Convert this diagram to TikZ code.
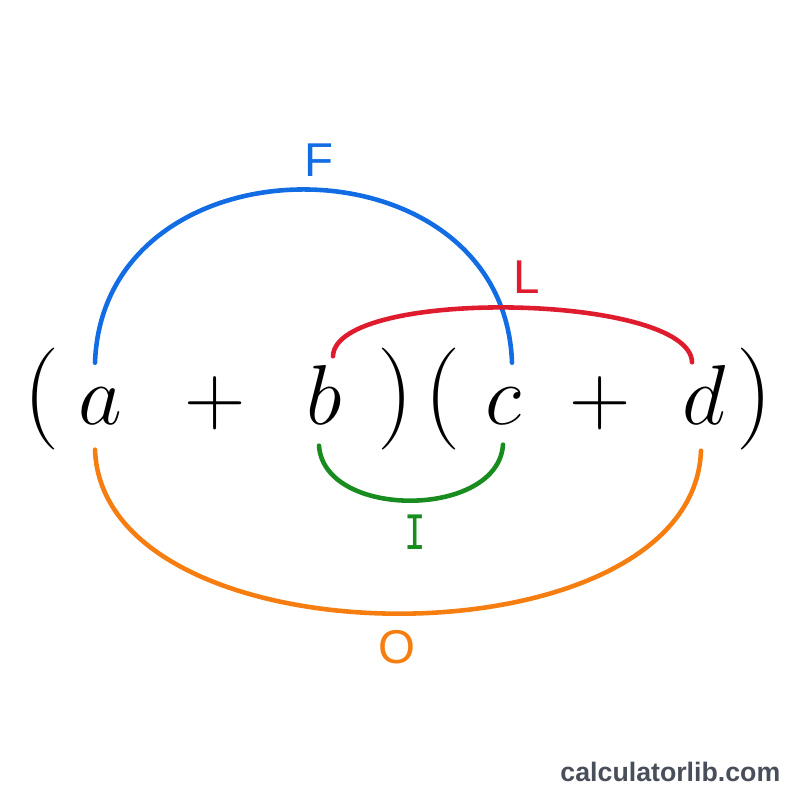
\documentclass[tikz,border=0pt]{standalone}
\usepackage{fontspec}
\newfontfamily\labfont{Liberation Sans}
\newfontfamily\ifont{DejaVu Sans Mono}
\definecolor{fblue}{RGB}{18,108,228}
\definecolor{lred}{RGB}{222,28,46}
\definecolor{igreen}{RGB}{24,140,30}
\definecolor{oorange}{RGB}{246,126,16}
\definecolor{wgray}{RGB}{72,78,90}
\begin{document}
\begin{tikzpicture}[x=0.01cm,y=-0.01cm,
  sym/.style={anchor=base,inner sep=0pt,font=\fontsize{24.88}{30}\selectfont,scale=0.972,transform shape},
  par/.style={anchor=base,inner sep=0pt,font=\fontsize{24.88}{30}\selectfont,scale=1.166,transform shape},
  arcline/.style={line width=1.3pt,line cap=round},
  lab/.style={font=\labfont\fontsize{13.5}{16}\selectfont,inner sep=0pt}]
\useasboundingbox (0,0) rectangle (800,800);
% expression
\node[par] (lp1) at (42,424) {$($};
\node[sym] (a) at (100,424) {$a$};
\node[sym] (p1) at (215,424) {$+$};
\node[sym] (b) at (324,424) {$b$};
\node[par] (rp1) at (396,424) {$)$};
\node[par] (lp2) at (443,424) {$($};
\node[sym] (c) at (503,424) {$c$};
\node[sym] (p2) at (600,424) {$+$};
\node[sym] (d) at (704,424) {$d$};
\node[par] (rp2) at (755,424) {$)$};
% arcs
\draw[arcline,fblue] ([shift={(-5,-24)}]a.north) .. controls +(8,-231) and +(-8,-231) .. ([shift={(9,-24)}]c.north);
\draw[arcline,lred] ([shift={(9,-8)}]b.north) .. controls +(2,-69) and +(-2,-69) .. ([shift={(-12,-2)}]d.north);
\draw[arcline,igreen] ([shift={(-5,21)}]b.south) .. controls +(5,74) and +(-5,74) .. ([shift={(0,20)}]c.south);
\draw[arcline,oorange] ([shift={(-5,25)}]a.south) .. controls +(8,218) and +(-8,218) .. ([shift={(-3,26)}]d.south);
% labels
\node[lab,text=fblue] (F) at (319,160) {F};
\node[lab,text=lred] (L) at (527,277) {L};
\node[inner sep=0pt,text=igreen,font=\ifont\fontsize{13.5}{16}\selectfont,xscale=0.75,transform shape] (I) at (415,532) {I};
\node[lab,text=oorange] (O) at (397,647) {O};
% watermark
\node[anchor=base east,inner sep=0pt,font=\labfont\bfseries\fontsize{7.6}{9}\selectfont,text=wgray] (wm) at (781,781) {calculatorlib.com};
\end{tikzpicture}
\end{document}
